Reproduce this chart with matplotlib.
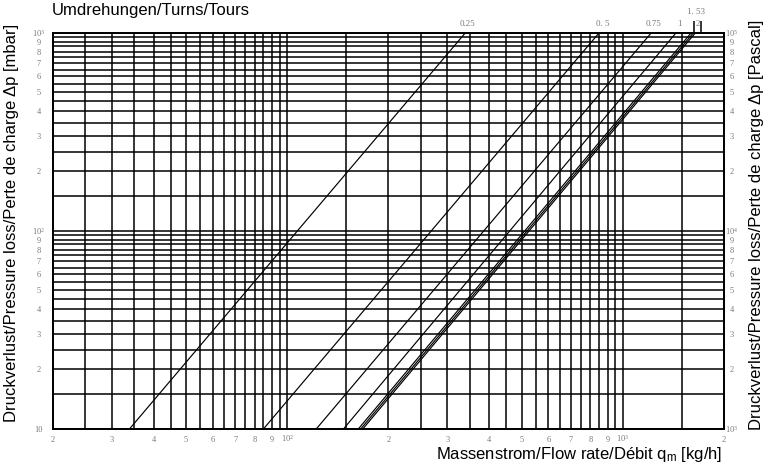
import matplotlib
matplotlib.use('Agg')
import matplotlib.pyplot as plt
import matplotlib.transforms as mtransforms

plt.rcParams['mathtext.fontset'] = 'custom'
plt.rcParams['mathtext.rm'] = 'Liberation Serif'
plt.rcParams['mathtext.it'] = 'Liberation Serif:italic'
plt.rcParams['mathtext.sf'] = 'Liberation Sans'

# ---- data ----
turns = ['0.25', '0.5', '0.75', '1', '1.5', '2', '3']
q_at_10mbar = [34.0, 85.2, 122.4, 147.5, 163.3, 166.0, 168.4]      # kg/h at dp = 10 mbar
q_at_1000mbar = [340.0, 851.0, 1217.0, 1442.0, 1600.0, 1625.0, 1647.0]  # kg/h at dp = 1000 mbar
dp_ends_mbar = [10, 1000]

x_range = [20, 2000]
y_range_mbar = [10, 1000]
y_range_pa = [1000, 100000]

x_tick_values = [20, 30, 40, 50, 60, 70, 80, 90, 100, 200, 300, 400, 500, 600, 700, 800, 900, 1000, 2000]
x_tick_labels = ['2', '3', '4', '5', '6', '7', '8', '9', '$10^{2}$', '2', '3', '4', '5', '6', '7', '8', '9', '$10^{3}$', '2']
y_tick_values = [10, 20, 30, 40, 50, 60, 70, 80, 90, 100, 200, 300, 400, 500, 600, 700, 800, 900, 1000]
y_left_labels = ['10', '2', '3', '4', '5', '6', '7', '8', '9', '$10^{2}$', '2', '3', '4', '5', '6', '7', '8', '9', '$10^{3}$']
y_right_labels = ['$10^{3}$', '2', '3', '4', '5', '6', '7', '8', '9', '$10^{4}$', '2', '3', '4', '5', '6', '7', '8', '9', '$10^{5}$']

# grid lines every half unit of each decade
x_grid = list(range(20, 100, 5)) + list(range(100, 1000, 50)) + [1000, 1500, 2000]
y_grid = list(range(10, 100, 5)) + list(range(100, 1001, 50))

# curve label texts as printed
curve_label_text = ['0.25', '0. 5', '0.75', '1']

W, H = 769, 472
fig = plt.figure(figsize=(W / 100, H / 100), dpi=100)
L, R, B, T = 52.5, 724.0, 428.5, 32.5
ax = fig.add_axes([L / W, 1 - B / H, (R - L) / W, (B - T) / H])
ax.set_xscale('log')
ax.set_yscale('log')
ax.set_xlim(*x_range)
ax.set_ylim(*y_range_mbar)

for xv in x_grid:
    ax.axvline(xv, color='black', lw=1.1, zorder=1)
for yv in y_grid:
    ax.axhline(yv, color='black', lw=1.1, zorder=1)

for q0, q1 in zip(q_at_10mbar, q_at_1000mbar):
    ax.plot([q0, q1], dp_ends_mbar, color='black', lw=0.85, zorder=3, solid_capstyle='butt')

for s in ax.spines.values():
    s.set_linewidth(1.3)

tick_color = '#7a7a7a'
ax.xaxis.set_minor_locator(plt.NullLocator())
ax.yaxis.set_minor_locator(plt.NullLocator())
ax.set_xticks(x_tick_values)
ax.set_xticklabels(x_tick_labels)
ax.set_yticks(y_tick_values)
ax.set_yticklabels(y_left_labels)
ax.tick_params(axis='both', length=0, labelsize=6, labelcolor=tick_color)
ax.tick_params(axis='x', pad=10)
ax.tick_params(axis='y', pad=10)
for lab in ax.get_xticklabels():
    lab.set_family('Liberation Serif')
    lab.set_va('baseline')
for lab in ax.get_yticklabels():
    lab.set_family('Liberation Serif')
    lab.set_ha('center')

ax2 = ax.twinx()
ax2.set_yscale('log')
ax2.set_ylim(*y_range_pa)
ax2.yaxis.set_minor_locator(plt.NullLocator())
ax2.set_yticks([v * 100 for v in y_tick_values])
ax2.set_yticklabels(y_right_labels)
ax2.tick_params(axis='y', length=0, labelsize=6, labelcolor=tick_color, pad=5.5)
for lab in ax2.get_yticklabels():
    lab.set_family('Liberation Serif')
    lab.set_ha('center')
for s in ax2.spines.values():
    s.set_linewidth(1.3)

# curve labels at the top crossing
px = 72 / 100
lab_dx = [1.5, 3, 2, 3]
for txt, q, dx in zip(curve_label_text, q_at_1000mbar[:4], lab_dx):
    ax.annotate(txt, xy=(q, y_range_mbar[1]), xytext=(dx * px, 8.5 * px), textcoords='offset points',
                ha='center', va='center', fontsize=6.5, color=tick_color, family='Liberation Serif',
                annotation_clip=False)
# combined labels for 1.5 / 3 and 2 with leaders
ax.annotate('1. 53', xy=(q_at_1000mbar[4], y_range_mbar[1]), xytext=(5 * px, 20.5 * px),
            textcoords='offset points', ha='center', va='center', fontsize=6.5, color=tick_color,
            family='Liberation Serif', annotation_clip=False)
ax.annotate('2', xy=(q_at_1000mbar[5], y_range_mbar[1]), xytext=(4 * px, 8.5 * px),
            textcoords='offset points', ha='center', va='center', fontsize=6.5, color=tick_color,
            family='Liberation Serif', annotation_clip=False, zorder=5)
for dx in (0.4, 7.7):
    tr = mtransforms.offset_copy(ax.get_xaxis_transform(), fig=fig, x=dx * px, y=0, units='points')
    ax.plot([q_at_1000mbar[5], q_at_1000mbar[5]], [1.0, 1.0 + 11.5 / (B - T)], transform=tr,
            color='black', lw=1.1, clip_on=False, solid_capstyle='butt')

sans = 'Liberation Sans'
fs = 12
fig.text(52 / W, 1 - 11 / H, 'Umdrehungen/Turns/Tours', ha='left', va='center', fontsize=fs, family=sans)
fig.text(722 / W, 1 - 455 / H, 'Massenstrom/Flow rate/Débit q$_{\\mathsf{m}}$ [kg/h]', ha='right', va='center',
         fontsize=fs, family=sans)
fig.text(12 / W, 1 - 223 / H, 'Druckverlust/Pressure loss/Perte de charge Δp [mbar]', rotation=90,
         ha='center', va='center', fontsize=fs, family=sans)
fig.text(757 / W, 1 - 225 / H, 'Druckverlust/Pressure loss/Perte de charge Δp [Pascal]', rotation=90,
         ha='center', va='center', fontsize=fs, family=sans)

fig.savefig('out.png', dpi=100)
